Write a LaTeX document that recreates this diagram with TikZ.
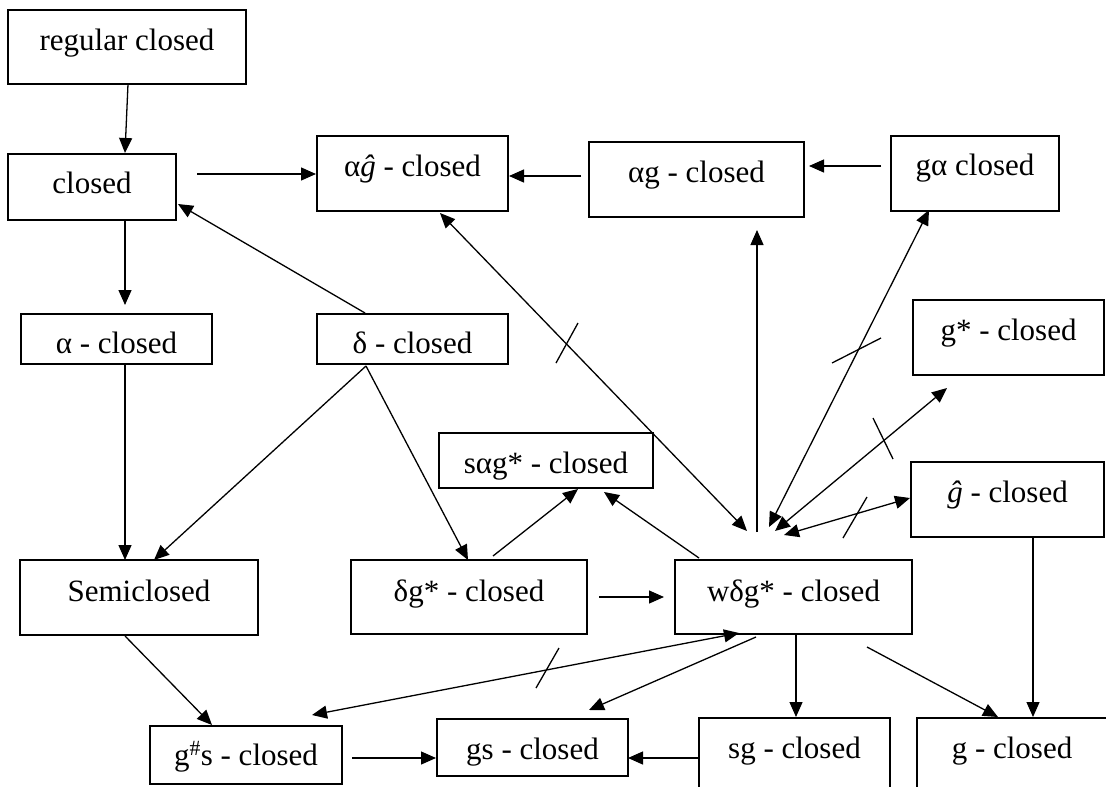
\documentclass[tikz,border=0pt]{standalone}
\usepackage{fontspec}
\setmainfont{Liberation Serif}
\usetikzlibrary{arrows.meta}
% framed box given by its corner coordinates: name, x1, y1, x2, y2
\newcommand\frameat[5]{%
  \node[frame, minimum width={(#4)-(#2)}, minimum height={(#5)-(#3)}]
    (#1) at ({((#2)+(#4))/2},{((#3)+(#5))/2}) {};}
\begin{document}
\begin{tikzpicture}[x=1pt,y=-1pt,
  frame/.style={draw, line width=2.6pt, inner sep=0pt, outer sep=0pt},
  txt/.style={anchor=base, inner sep=0pt, font=\fontsize{31}{36}\selectfont},
  head/.style={Triangle[length=15pt,width=13pt]},
  link/.style={line width=1.3pt, -{Triangle[length=15pt,width=13pt]}},
  both/.style={line width=1.3pt, {Triangle[length=15pt,width=13pt]}-{Triangle[length=15pt,width=13pt]}},
  tick/.style={line width=1.3pt}]
\useasboundingbox (0,0) rectangle (1106,787);
\clip (0,0) rectangle (1106,787);

% boxes
\frameat{rc}{8}{10}{246}{84}
\frameat{cl}{8}{154}{176}{220}
\frameat{ahg}{317}{136}{508}{211}
\frameat{ag}{589}{142}{804}{217}
\frameat{ga}{891}{136}{1059}{211}
\frameat{gst}{913}{300}{1104}{375}
\frameat{al}{21}{314}{212}{364}
\frameat{de}{317}{314}{508}{364}
\frameat{sag}{439}{433}{653}{488}
\frameat{hg}{911}{462}{1104}{537}
\frameat{sc}{20}{560}{258}{635}
\frameat{dg}{351}{560}{587}{634}
\frameat{wdg}{675}{560}{912}{634}
\frameat{gh}{150}{726}{342}{784}
\frameat{gsc}{437}{719}{628}{776}
\frameat{sgc}{699}{718}{890}{820}
\frameat{gc}{917}{718}{1140}{820}

% labels
\node[txt] (rc-t)  at (127,50)    {regular closed};
\node[txt] (cl-t)  at (92,193)    {closed};
\node[txt] (ahg-t) at (412.5,176) {α\textit{ĝ} - closed};
\node[txt] (ag-t)  at (696.5,182) {αg - closed};
\node[txt] (ga-t)  at (975,175)   {gα closed};
\node[txt] (gst-t) at (1008.5,340){g* - closed};
\node[txt] (al-t)  at (116.5,353) {α - closed};
\node[txt] (de-t)  at (412.5,353) {δ - closed};
\node[txt] (sag-t) at (546,473)   {sαg* - closed};
\node[txt] (hg-t)  at (1007.5,502){\textit{ĝ} - closed};
\node[txt] (sc-t)  at (139,601)   {Semiclosed};
\node[txt] (dg-t)  at (469,601)   {δg* - closed};
\node[txt] (wdg-t) at (793.5,601) {wδg* - closed};
\node[txt] (gh-t)  at (246,765)   {g\textsuperscript{\#}s - closed};
\node[txt] (gsc-t) at (532.5,759) {gs - closed};
\node[txt] (sgc-t) at (794.5,758) {sg - closed};
\node[txt] (gc-t)  at (1012,758)  {g - closed};

% connector end points
\coordinate (rc-o)   at (128,84);   \coordinate (cl-i)   at (125,153);
\coordinate (cl-r)   at (197,174);  \coordinate (ahg-l)  at (316,174);
\coordinate (ag-l)   at (581,176);  \coordinate (ahg-r)  at (509,176);
\coordinate (ga-l)   at (881,166);  \coordinate (ag-r)   at (809,166);
\coordinate (cl-b)   at (125,220);  \coordinate (al-i)   at (125,305);
\coordinate (de-t0)  at (365,313);  \coordinate (cl-c)   at (178,204);
\coordinate (al-b)   at (125,364);  \coordinate (sc-i1)  at (125,560);
\coordinate (de-b)   at (366,366);  \coordinate (sc-i2)  at (154,560);
\coordinate (dg-i)   at (468,560);
\coordinate (dg-o)   at (493,556);  \coordinate (sag-i1) at (578,489);
\coordinate (wdg-o1) at (699,558);  \coordinate (sag-i2) at (604,492);
\coordinate (dg-r)   at (599,597);  \coordinate (wdg-l)  at (664,597);
\coordinate (ahg-b)  at (440,213);  \coordinate (wdg-t1) at (747,531);
\coordinate (wdg-t2) at (757,532);  \coordinate (ag-b)   at (757,230);
\coordinate (ga-b)   at (929,210);  \coordinate (wdg-t3) at (769,527);
\coordinate (gst-b)  at (947,388);  \coordinate (wdg-t4) at (775,531);
\coordinate (hg-l)   at (910,498);  \coordinate (wdg-t5) at (784,535);
\coordinate (wdg-b1) at (796,635);  \coordinate (sgc-t0) at (796,717);
\coordinate (wdg-b2) at (867,647);  \coordinate (gc-t1)  at (998,717);
\coordinate (hg-b)   at (1033,537); \coordinate (gc-t2)  at (1033,717);
\coordinate (sgc-l)  at (699,758);  \coordinate (gsc-r)  at (628,758);
\coordinate (gh-r)   at (352,758);  \coordinate (gsc-l)  at (436,758);
\coordinate (sc-b)   at (125,636);  \coordinate (gh-i)   at (212,725);
\coordinate (wdg-b3) at (756,637);  \coordinate (gsc-t0) at (589,710);
\coordinate (gh-t0)  at (312,715);  \coordinate (wdg-b4) at (739,633);

% one-way implications
\draw[link] (rc-o) -- (cl-i);
\draw[link] (cl-r) -- (ahg-l);
\draw[link] (ag-l) -- (ahg-r);
\draw[link] (ga-l) -- (ag-r);
\draw[link] (cl-b) -- (al-i);
\draw[link] (de-t0) -- (cl-c);
\draw[link] (al-b) -- (sc-i1);
\draw[link] (de-b) -- (sc-i2);
\draw[link] (de-b) -- (dg-i);
\draw[link] (dg-o) -- (sag-i1);
\draw[link] (wdg-o1) -- (sag-i2);
\draw[link] (dg-r) -- (wdg-l);
\draw[link] (wdg-t2) -- (ag-b);
\draw[link] (wdg-b1) -- (sgc-t0);
\draw[link] (wdg-b2) -- (gc-t1);
\draw[link] (hg-b) -- (gc-t2);
\draw[link] (sgc-l) -- (gsc-r);
\draw[link] (gh-r) -- (gsc-l);
\draw[link] (sc-b) -- (gh-i);
\draw[link] (wdg-b3) -- (gsc-t0);

% independences, each crossed by a tick
\draw[both] (ahg-b) -- (wdg-t1);
\draw[tick] (578,323) -- (556,363);
\draw[both] (ga-b) -- (wdg-t3);
\draw[tick] (832,363) -- (881,338);
\draw[both] (gst-b) -- (wdg-t4);
\draw[tick] (873,418) -- (893,459);
\draw[both] (hg-l) -- (wdg-t5);
\draw[tick] (867,497) -- (843,538);
\draw[both] (gh-t0) -- (wdg-b4);
\draw[tick] (559,648) -- (536,688);
\end{tikzpicture}
\end{document}
